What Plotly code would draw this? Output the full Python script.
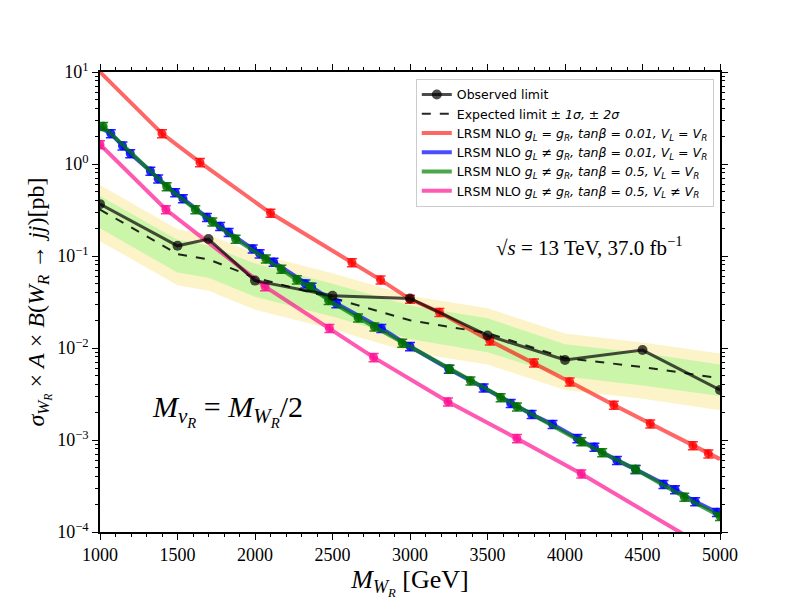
import plotly.graph_objects as go

# ---- data ----
mass_lim = [1000, 1500, 1700, 2000, 2500, 3000, 3500, 4000, 4500, 5000]
observed = [0.366, 0.129, 0.153, 0.054, 0.037, 0.0345, 0.0137, 0.0074, 0.0095, 0.0035]
expected = [0.32, 0.105, 0.092, 0.058, 0.035, 0.020, 0.0145, 0.0078, 0.0062, 0.0047]
exp_up1 = [0.45, 0.15, 0.13, 0.083, 0.05, 0.029, 0.021, 0.011, 0.0088, 0.0066]
exp_dn1 = [0.20, 0.066, 0.058, 0.036, 0.022, 0.0125, 0.009, 0.0049, 0.0039, 0.003]
exp_up2 = [0.59, 0.195, 0.17, 0.107, 0.065, 0.037, 0.027, 0.0144, 0.0115, 0.0087]
exp_dn2 = [0.145, 0.048, 0.042, 0.026, 0.016, 0.009, 0.0066, 0.0035, 0.0028, 0.0021]

red_pts_x = [1400, 1645, 2100, 2625, 2810, 3000, 3190, 3515, 3800, 4030, 4315, 4550, 4825, 4925]
red_pts_y = [2.14, 1.04, 0.293, 0.085, 0.055, 0.034, 0.0245, 0.012, 0.0069, 0.0043, 0.0024, 0.0015, 0.00087, 0.00071]
red_curve_x = [1000] + red_pts_x + [5000]
red_curve_y = [10.0] + red_pts_y + [0.00062]

blue_pts_x = [1070, 1145, 1195, 1325, 1375, 1485, 1535, 1690, 1775, 1830, 1985, 2030, 2120, 2325, 2365,
              2525, 2815, 3000, 3250, 3475, 3650, 3785, 3920, 4080, 4190, 4335, 4455, 4635, 4710, 4840, 4980]
blue_pts_y = [2.14, 1.58, 1.30, 0.84, 0.69, 0.49, 0.42, 0.263, 0.21, 0.181, 0.12, 0.106, 0.086, 0.050, 0.046,
              0.0305, 0.0164, 0.0104, 0.0059, 0.0037, 0.0025, 0.0019, 0.00148, 0.00104, 0.00084, 0.0006,
              0.00048, 0.00033, 0.00029, 0.000214, 0.000164]
blue_curve_x = [1000] + blue_pts_x + [5000]
blue_curve_y = [2.5] + blue_pts_y + [0.00015]

green_pts_x = [1020, 1430, 1615, 1725, 1875, 2070, 2170, 2270, 2355, 2475, 2665, 2770, 2950, 3255, 3390,
               3585, 3690, 4105, 4240, 4455, 4770, 5000]
green_pts_y = [2.57, 0.57, 0.32, 0.236, 0.153, 0.093, 0.072, 0.0553, 0.046, 0.033, 0.0213, 0.017, 0.0113,
               0.0059, 0.0044, 0.0029, 0.0023, 0.00096, 0.00073, 0.00048, 0.00024, 0.000148]
green_curve_x = [1000] + green_pts_x
green_curve_y = [2.62] + green_pts_y

pink_pts_x = [1000, 1425, 2065, 2480, 2765, 3245, 3690, 4105]
pink_pts_y = [1.63, 0.32, 0.0465, 0.0164, 0.0079, 0.0026, 0.00104, 0.00043]
pink_curve_x = pink_pts_x + [5000]
pink_curve_y = pink_pts_y + [5.5e-5]

x_ticks = [1000, 1500, 2000, 2500, 3000, 3500, 4000, 4500, 5000]
y_ticks = [1e-4, 1e-3, 1e-2, 1e-1, 1, 10]
y_ticktext = ["10<sup>−4</sup>", "10<sup>−3</sup>", "10<sup>−2</sup>", "10<sup>−1</sup>",
              "10<sup>0</sup>", "10<sup>1</sup>"]
y_minor = [k * 10.0 ** e for e in range(-4, 1) for k in range(2, 10)]

legend_names = [
    "Observed limit",
    "Expected limit <i>± 1σ, ± 2σ</i>",
    "LRSM NLO <i>g<sub>L</sub> = g<sub>R</sub>, tanβ = 0.01, V<sub>L</sub> = V<sub>R</sub></i>",
    "LRSM NLO <i>g<sub>L</sub> ≠ g<sub>R</sub>, tanβ = 0.01, V<sub>L</sub> = V<sub>R</sub></i>",
    "LRSM NLO <i>g<sub>L</sub> ≠ g<sub>R</sub>, tanβ = 0.5, V<sub>L</sub> = V<sub>R</sub></i>",
    "LRSM NLO <i>g<sub>L</sub> ≠ g<sub>R</sub>, tanβ = 0.5, V<sub>L</sub> ≠ V<sub>R</sub></i>",
]

SERIF = "Liberation Serif, DejaVu Serif, serif"
SANS = "DejaVu Sans, sans-serif"

fig = go.Figure()

# bands
fig.add_trace(go.Scatter(x=mass_lim, y=exp_dn2, mode="lines", line=dict(width=0),
                         showlegend=False, hoverinfo="skip"))
fig.add_trace(go.Scatter(x=mass_lim, y=exp_up2, mode="lines", line=dict(width=0), fill="tonexty",
                         fillcolor="#fcf4c8", showlegend=False, hoverinfo="skip"))
fig.add_trace(go.Scatter(x=mass_lim, y=exp_dn1, mode="lines", line=dict(width=0),
                         showlegend=False, hoverinfo="skip"))
fig.add_trace(go.Scatter(x=mass_lim, y=exp_up1, mode="lines", line=dict(width=0), fill="tonexty",
                         fillcolor="#cbf5a9", showlegend=False, hoverinfo="skip"))

# expected
fig.add_trace(go.Scatter(x=mass_lim, y=expected, mode="lines", name=legend_names[1], legendrank=2,
                         line=dict(color="rgba(0,0,0,0.85)", width=2, dash="dash")))


def model(cx, cy, px, py, line_col, mk_col, name, rank):
    fig.add_trace(go.Scatter(x=cx, y=cy, mode="lines", name=name, legendrank=rank,
                             line=dict(color=line_col, width=4)))
    fig.add_trace(go.Scatter(x=px, y=py, mode="markers", showlegend=False,
                             marker=dict(color=mk_col, size=9),
                             error_y=dict(type="percent", value=10, color=mk_col, thickness=1.5, width=5)))


model(red_curve_x, red_curve_y, red_pts_x, red_pts_y, "rgba(255,0,0,0.6)", "rgba(255,0,0,0.8)",
      legend_names[2], 3)
model(blue_curve_x, blue_curve_y, blue_pts_x, blue_pts_y, "rgba(0,0,255,0.7)", "rgba(0,0,255,0.85)",
      legend_names[3], 4)
model(green_curve_x, green_curve_y, green_pts_x, green_pts_y, "rgba(0,128,0,0.7)", "rgba(0,110,0,0.85)",
      legend_names[4], 5)
model(pink_curve_x, pink_curve_y, pink_pts_x, pink_pts_y, "rgba(255,20,147,0.7)", "rgba(255,20,147,0.85)",
      legend_names[5], 6)

# observed
fig.add_trace(go.Scatter(x=mass_lim, y=observed, mode="lines+markers", name=legend_names[0], legendrank=1,
                         line=dict(color="rgba(0,0,0,0.7)", width=3),
                         marker=dict(color="rgba(0,0,0,0.7)", size=10)))

axis_common = dict(showline=True, linecolor="black", linewidth=1.5, mirror="allticks", ticks="outside",
                   tickcolor="black", showgrid=False, zeroline=False,
                   tickfont=dict(family=SERIF, size=18, color="black"))

fig.update_xaxes(range=[1000, 5000], tickvals=x_ticks, ticklen=6, tickwidth=1.2,
                 minor=dict(dtick=100, ticks="outside", ticklen=3, tickcolor="black", showgrid=False),
                 title=dict(text="<i>M<sub>W<sub>R</sub></sub></i> [GeV]", standoff=4,
                            font=dict(family=SERIF, size=26, color="black")),
                 **axis_common)
fig.update_yaxes(type="log", range=[-4, 1], tickvals=y_ticks, ticktext=y_ticktext, ticklen=6, tickwidth=1.2,
                 minor=dict(tickvals=y_minor, ticks="outside", ticklen=3, tickcolor="black", showgrid=False),
                 title=dict(text="<i>σ<sub>W<sub>R</sub></sub></i> × <i>A</i> × <i>B</i>(<i>W<sub>R</sub></i> → <i>jj</i>)[pb]",
                            standoff=6, font=dict(family=SERIF, size=24, color="black")),
                 **axis_common)

fig.add_annotation(x=0.79, y=0.62, xref="paper", yref="paper", showarrow=False, xanchor="center",
                   text="√<i>s</i> = 13 TeV, 37.0 fb<sup>−1</sup>",
                   font=dict(family=SERIF, size=21, color="black"))
fig.add_annotation(x=0.205, y=0.215, xref="paper", yref="paper", showarrow=False, xanchor="center",
                   text="<i>M<sub>ν<sub>R</sub></sub></i> = <i>M<sub>W<sub>R</sub></sub></i>/2",
                   font=dict(family=SERIF, size=30, color="black"))

fig.update_layout(
    width=800, height=600, plot_bgcolor="white", paper_bgcolor="white",
    margin=dict(l=100, r=80, t=72, b=65),
    showlegend=True,
    legend=dict(x=0.99, y=0.985, xanchor="right", yanchor="top", bgcolor="rgba(255,255,255,0.9)",
                bordercolor="#cccccc", borderwidth=1, font=dict(family=SANS, size=12.5, color="black"),
                tracegroupgap=0, itemwidth=30, traceorder="normal"),
)

fig.write_html("out.html")
